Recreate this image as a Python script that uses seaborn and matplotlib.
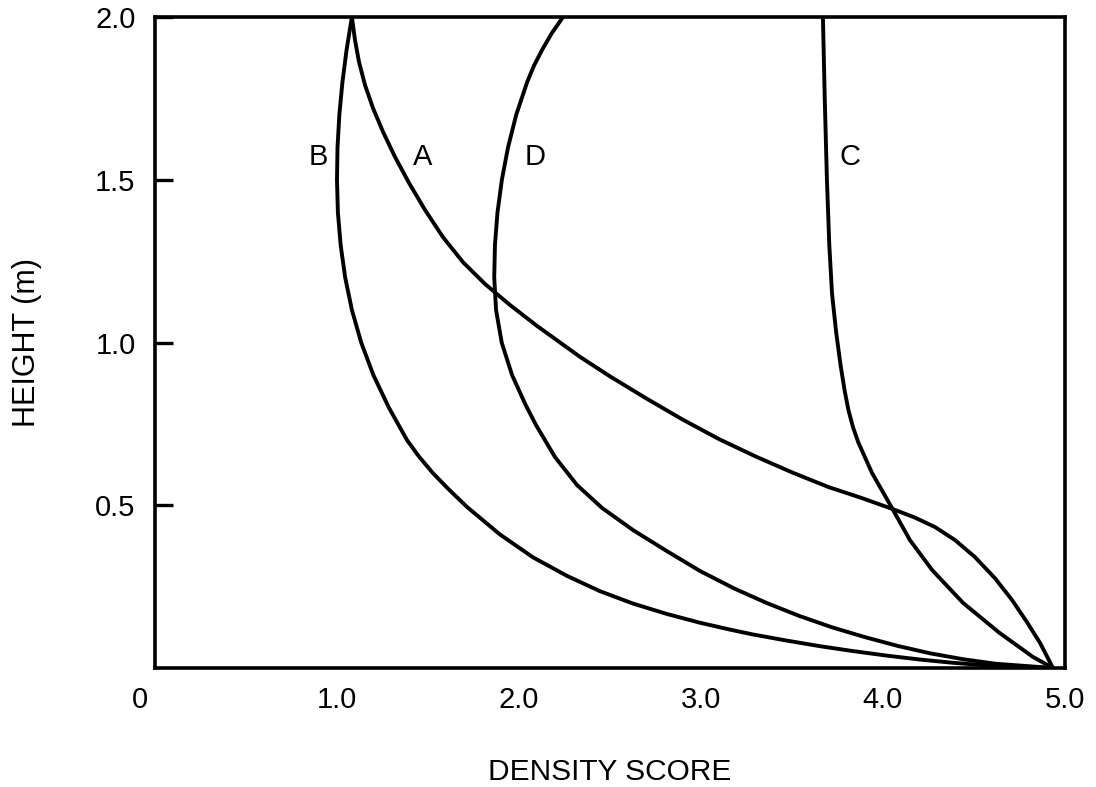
"""
Density score profiles against height for four cases (A-D).
"""

import matplotlib
matplotlib.use("Agg")
import matplotlib.pyplot as plt
import matplotlib.transforms as mtransforms
import seaborn as sns
import pandas as pd

# curve A
a_score = [1.082, 1.099, 1.121, 1.154, 1.198, 1.253, 1.319, 1.396, 1.484, 1.582, 1.692,
           1.813, 1.951, 2.099, 2.253, 2.335, 2.500, 2.700, 2.900, 3.100, 3.300, 3.500,
           3.700, 3.874, 4.055, 4.176, 4.286, 4.396, 4.505, 4.615, 4.709, 4.791, 4.863,
           4.934]
a_height = [2.000, 1.929, 1.862, 1.791, 1.720, 1.647, 1.570, 1.490, 1.407, 1.324, 1.247,
            1.180, 1.115, 1.051, 0.989, 0.956, 0.896, 0.828, 0.763, 0.703, 0.650, 0.601,
            0.556, 0.524, 0.488, 0.462, 0.433, 0.393, 0.341, 0.276, 0.209, 0.141, 0.077,
            0.000]

# curve B
b_score = [1.082, 1.053, 1.030, 1.013, 1.003, 1.000, 1.005, 1.020, 1.045, 1.082, 1.133,
           1.200, 1.285, 1.385, 1.450, 1.525, 1.612, 1.714, 1.896, 2.077, 2.264, 2.445,
           2.626, 2.813, 2.995, 3.159, 3.286, 3.473, 3.654, 3.835, 4.022, 4.203, 4.385,
           4.571, 4.934]
b_height = [2.000, 1.900, 1.800, 1.700, 1.600, 1.500, 1.400, 1.300, 1.200, 1.100, 1.000,
            0.900, 0.800, 0.700, 0.650, 0.600, 0.550, 0.495, 0.410, 0.340, 0.283, 0.236,
            0.198, 0.166, 0.139, 0.118, 0.103, 0.084, 0.067, 0.052, 0.038, 0.026, 0.016,
            0.008, 0.000]

# curve C
c_score = [3.670, 3.680, 3.692, 3.705, 3.720, 3.743, 3.767, 3.790, 3.810, 3.835, 3.866,
           3.940, 4.049, 4.148, 4.270, 4.440, 4.640, 4.824, 4.934]
c_height = [2.000, 1.750, 1.500, 1.300, 1.150, 1.030, 0.930, 0.850, 0.793, 0.740, 0.691,
            0.599, 0.492, 0.393, 0.301, 0.200, 0.108, 0.034, 0.000]

# curve D
d_score = [2.242, 2.180, 2.128, 2.082, 2.045, 1.985, 1.940, 1.906, 1.882, 1.868, 1.864,
           1.874, 1.905, 1.962, 2.035, 2.093, 2.198, 2.319, 2.456, 2.626, 2.813, 2.995,
           3.180, 3.360, 3.540, 3.720, 3.900, 4.080, 4.260, 4.440, 4.620, 4.934]
d_height = [2.000, 1.950, 1.900, 1.850, 1.800, 1.700, 1.600, 1.500, 1.400, 1.300, 1.200,
            1.100, 1.000, 0.900, 0.810, 0.747, 0.648, 0.562, 0.492, 0.424, 0.359, 0.298,
            0.245, 0.200, 0.160, 0.125, 0.095, 0.068, 0.045, 0.027, 0.013, 0.000]

curve_names = ["A", "B", "C", "D"]
label_score = [1.47, 0.90, 3.82, 2.09]
label_height = [1.57, 1.57, 1.57, 1.57]

x_ticks = [0, 1, 2, 3, 4, 5]
x_tick_labels = ["0", "1.0", "2.0", "3.0", "4.0", "5.0"]
y_ticks = [0.5, 1.0, 1.5, 2.0]
y_tick_labels = ["0.5", "1.0", "1.5", "2.0"]

sns.set_theme(style="white")
plt.rcParams["font.family"] = ["Liberation Sans", "DejaVu Sans"]

frames = []
for name, xs, ys in zip(curve_names,
                        [a_score, b_score, c_score, d_score],
                        [a_height, b_height, c_height, d_height]):
    frames.append(pd.DataFrame({"score": xs, "height": ys, "curve": name}))
df = pd.concat(frames, ignore_index=True)

fig = plt.figure(figsize=(10.96, 7.87), dpi=100)
ax = fig.add_axes([0.1414, 0.1512, 0.8303, 0.8272])

for name in curve_names:
    sub = df[df["curve"] == name]
    sns.lineplot(data=sub, x="score", y="height", sort=False, estimator=None,
                 color="black", linewidth=2.8, ax=ax, legend=False)

for name, lx, ly in zip(curve_names, label_score, label_height):
    ax.text(lx, ly, name, fontsize=21, ha="center", va="center", color="black")

ax.set_xlim(0, 5.0)
ax.set_ylim(0, 2.0)
ax.set_xticks(x_ticks)
ax.set_xticklabels(x_tick_labels)
ax.set_yticks(y_ticks)
ax.set_yticklabels(y_tick_labels)
ax.tick_params(axis="x", length=0, pad=13, labelsize=21, colors="black")
ax.tick_params(axis="y", direction="in", length=13, width=2.4, pad=14,
               labelsize=21, colors="black", left=True)

# the "0" on the x axis sits a little left of the corner
zero_label = ax.get_xticklabels()[0]
zero_label.set_transform(zero_label.get_transform() +
                         mtransforms.ScaledTranslation(-0.15, 0, fig.dpi_scale_trans))

for sp in ax.spines.values():
    sp.set_color("black")
    sp.set_linewidth(2.6)

ax.set_xlabel("DENSITY SCORE", fontsize=21.5, color="black")
ax.set_ylabel("HEIGHT (m)", fontsize=22, color="black")
ax.xaxis.set_label_coords(0.5, -0.139)
ax.yaxis.set_label_coords(-0.124, 0.5)

fig.savefig("out.png", dpi=100)
plt.close(fig)
